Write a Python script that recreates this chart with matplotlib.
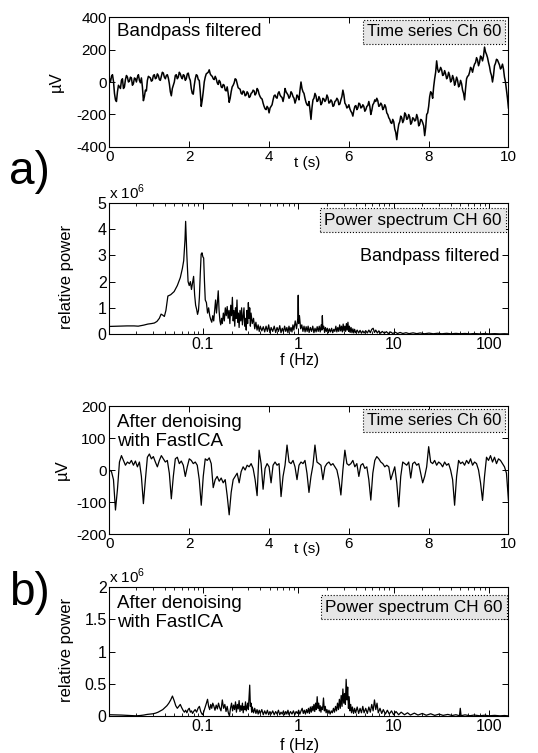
import numpy as np
import matplotlib
matplotlib.use("Agg")
import matplotlib.pyplot as plt
from matplotlib.ticker import FixedLocator, NullFormatter

plt.rcParams['font.family'] = ['Liberation Sans', 'DejaVu Sans']
plt.rcParams['mathtext.fontset'] = 'custom'
plt.rcParams['mathtext.rm'] = 'Liberation Sans'
plt.rcParams['axes.unicode_minus'] = False

# a) time series, bandpass filtered (uV, one value every 0.025 s, 0..10 s)
ts_band = [
    20, 0, 35, 45, 5, -70, -110, -120, -60, -20, -30, -40, 10, 20, -40, -30, 15, 40, 30, 0,
    5, 30, 25, -20, -10, 25, 20, 0, 30, 45, 10, -5, 25, -30, -115, -90, -50, -55, 10, 35,
    30, 25, 5, 10, 40, 45, 20, 25, 50, 40, 15, 10, 35, 60, 55, 30, 20, 40, 45, 25,
    -10, -60, -85, -40, -20, 0, 40, 45, 20, 30, 60, 50, 30, 20, 45, 40, 10, 20, 50, 55,
    25, 10, -40, -70, -75, -20, 20, 45, 40, 15, 10, -60, -150, -110, -60, 0, 30, 50, 55, 60,
    75, 50, 40, 35, 20, 15, 35, 20, -5, -15, 10, 0, -30, -35, -15, -20, -50, -55, -30, -70,
    -125, -100, -60, -30, -20, -5, 20, 15, -10, -35, -40, -45, -70, -75, -55, -60, -85, -80, -60, -70,
    -95, -90, -70, -65, -50, -55, -80, -70, -40, -50, -75, -90, -100, -105, -130, -150, -165, -170, -150, -160,
    -190, -160, -150, -140, -110, -85, -80, -95, -100, -70, -60, -80, -90, -95, -120, -90, -40, -60, -70, -80,
    -100, -90, -60, -70, -90, -100, -130, -110, -80, -90, -110, -50, 0, -40, -60, -70, -100, -125, -140, -145,
    -120, -170, -230, -160, -110, -100, -70, -85, -120, -115, -90, -105, -140, -130, -100, -105, -120, -110, -80, -95,
    -130, -125, -110, -120, -150, -145, -120, -115, -100, -110, -140, -135, -110, -90, -50, -80, -130, -140, -160, -155,
    -140, -165, -180, -190, -210, -175, -150, -145, -170, -160, -130, -135, -160, -155, -140, -150, -180, -170, -150, -145,
    -120, -150, -200, -175, -140, -130, -110, -120, -100, -115, -150, -145, -130, -140, -170, -160, -140, -155, -190, -200,
    -220, -230, -250, -255, -230, -245, -290, -310, -355, -300, -260, -245, -210, -220, -250, -235, -190, -200, -230, -225,
    -200, -215, -260, -250, -220, -225, -240, -235, -200, -220, -270, -260, -230, -235, -250, -270, -330, -280, -200, -190,
    -150, -90, -60, -70, -100, -30, 20, 60, 130, 80, 60, 70, 90, 75, 40, 45, 70, 50, 20, 30,
    60, 40, 0, 10, 40, 20, -20, 0, 30, 10, -30, -20, 10, -10, -50, -70, -110, -40, 20, 35,
    40, 60, 90, 80, 60, 90, 110, 120, 150, 135, 100, 120, 160, 150, 130, 160, 215, 185, 170, 150,
    120, 95, 60, 40, 0, 40, 100, 115, 140, 135, 120, 105, 80, 90, 110, 80, 30, 0, -50, -100,
    -160,
]

# b) time series after denoising with FastICA (uV, one value every 0.05 s, 0..10 s)
ts_ica = [
    0, -5, -30, -125, -60, 25, 45, 30, 15, 25, 20, 30, 15, 28, 10, 25, -20, -105, -30, 40,
    50, 35, 42, 25, 10, 30, 45, 35, 25, 30, -10, -90, -20, 35, 40, 20, 28, 15, -20, 10,
    35, 30, 20, 25, 15, -30, -110, -20, 35, 30, 38, 20, -55, -30, -20, -35, -25, -40, -30, -80,
    -140, -70, -30, -20, -10, -40, -5, 10, 0, 15, 10, 20, 5, -30, -80, 62, 20, -60, 5, 20,
    10, -40, 15, 25, 15, 20, -83, -20, 15, 78, 25, 20, 30, 10, -30, 15, 25, 20, 30, -10,
    -70, -20, 15, 78, 25, 20, 15, -30, 10, 20, 25, 15, 20, 10, 0, -30, -78, 0, 62, 20,
    15, 20, 30, 10, 20, -20, 15, 20, 5, 10, -30, -94, -10, 30, 42, 35, 25, 20, 10, 15,
    10, -30, -10, 10, -40, -115, -20, 25, 20, 15, 25, -25, 20, 25, 15, 20, -10, -40, -20, 10,
    73, 25, 20, 30, 15, 25, 20, 10, 25, 15, 20, 0, -30, -110, -20, 30, 20, 25, 15, 30,
    20, 35, 15, 25, 20, 0, -40, -95, -20, 40, 30, 45, 25, 40, 20, 35, 30, 20, 10, -10,
    -95,
]

# a) power spectrum, bandpass filtered: (f in Hz, power in 1e6)
spec_band = [
    (0.0105, 0.29), (0.013, 0.30), (0.016, 0.31), (0.019, 0.31), (0.021, 0.30), (0.024, 0.34),
    (0.0265, 0.38), (0.029, 0.40), (0.031, 0.42), (0.033, 0.48), (0.035, 0.60), (0.0365, 0.76),
    (0.038, 0.72), (0.0395, 0.67), (0.041, 0.9), (0.043, 1.45), (0.046, 1.5), (0.050, 1.62),
    (0.054, 1.85), (0.058, 2.15), (0.061, 2.5), (0.063, 2.8), (0.065, 3.6), (0.066, 4.3),
    (0.068, 3.0), (0.070, 2.0), (0.072, 1.85), (0.074, 2.0), (0.076, 1.7), (0.078, 1.95),
    (0.080, 2.2), (0.082, 1.5), (0.084, 1.1), (0.086, 0.95), (0.088, 0.75), (0.090, 0.9),
    (0.092, 1.4), (0.094, 2.3), (0.096, 3.05), (0.098, 3.1), (0.100, 2.95), (0.102, 2.9),
    (0.104, 2.0), (0.106, 1.3), (0.109, 1.2), (0.112, 0.8), (0.115, 1.0), (0.118, 0.7),
    (0.121, 0.55), (0.124, 0.45), (0.127, 0.7), (0.130, 0.5), (0.133, 0.9), (0.136, 1.3),
    (0.139, 0.8), (0.142, 1.2), (0.145, 1.65), (0.148, 0.9), (0.151, 0.5), (0.154, 0.35),
    (0.157, 0.6), (0.160, 0.4), (0.164, 0.8), (0.168, 0.5), (0.172, 1.0), (0.176, 0.7),
    (0.180, 1.05), (0.184, 0.6), (0.188, 0.9), (0.192, 0.4), (0.196, 1.1), (0.200, 0.7),
    (0.204, 1.4), (0.208, 0.5), (0.212, 0.9), (0.216, 0.3), (0.220, 1.0), (0.224, 0.6),
    (0.228, 1.3), (0.232, 0.45), (0.236, 0.8), (0.240, 0.25), (0.245, 0.9), (0.250, 0.5),
    (0.255, 1.0), (0.260, 0.35), (0.265, 0.7), (0.270, 1.0), (0.275, 0.3), (0.280, 0.6),
    (0.285, 0.15), (0.290, 0.9), (0.295, 0.4), (0.300, 1.2), (0.305, 0.6), (0.310, 1.0),
    (0.315, 0.3), (0.320, 0.8), (0.330, 0.4), (0.340, 0.6), (0.350, 0.2), (0.360, 0.45),
    (0.370, 0.15), (0.380, 0.35), (0.390, 0.1), (0.400, 0.3), (0.415, 0.12), (0.430, 0.28),
    (0.445, 0.08), (0.460, 0.3), (0.475, 0.1), (0.490, 0.35), (0.505, 0.05), (0.520, 0.25),
    (0.540, 0.1), (0.560, 0.3), (0.580, 0.06), (0.600, 0.25), (0.620, 0.1), (0.640, 0.32),
    (0.660, 0.05), (0.680, 0.22), (0.700, 0.08), (0.720, 0.3), (0.740, 0.1), (0.760, 0.25),
    (0.780, 0.05), (0.800, 0.3), (0.820, 0.1), (0.840, 0.25), (0.860, 0.08), (0.880, 0.35),
    (0.900, 0.15), (0.930, 0.5), (0.960, 0.2), (0.990, 0.6), (1.00, 1.48), (1.01, 0.4),
    (1.03, 0.7), (1.06, 0.2), (1.09, 0.35), (1.12, 0.1), (1.15, 0.3), (1.18, 0.08),
    (1.21, 0.28), (1.24, 0.1), (1.27, 0.3), (1.30, 0.06), (1.34, 0.25), (1.38, 0.1),
    (1.42, 0.3), (1.46, 0.05), (1.50, 0.22), (1.54, 0.08), (1.58, 0.28), (1.62, 0.1),
    (1.66, 0.3), (1.70, 0.08), (1.74, 0.35), (1.77, 0.15), (1.79, 0.7), (1.81, 0.2),
    (1.85, 0.3), (1.89, 0.06), (1.93, 0.25), (1.97, 0.1), (2.02, 0.22), (2.07, 0.05),
    (2.12, 0.2), (2.18, 0.08), (2.24, 0.22), (2.30, 0.05), (2.36, 0.18), (2.42, 0.1),
    (2.48, 0.3), (2.54, 0.08), (2.60, 0.25), (2.66, 0.1), (2.72, 0.35), (2.78, 0.12),
    (2.84, 0.3), (2.90, 0.08), (2.96, 0.38), (3.02, 0.12), (3.08, 0.3), (3.14, 0.1),
    (3.20, 0.4), (3.26, 0.15), (3.32, 0.45), (3.38, 0.1), (3.44, 0.3), (3.50, 0.06),
    (3.58, 0.25), (3.66, 0.05), (3.74, 0.2), (3.82, 0.04), (3.90, 0.18), (4.00, 0.05),
    (4.15, 0.15), (4.30, 0.04), (4.45, 0.14), (4.60, 0.03), (4.75, 0.12), (4.90, 0.04),
    (5.10, 0.13), (5.30, 0.04), (5.50, 0.15), (5.70, 0.05), (5.90, 0.18), (6.10, 0.22),
    (6.30, 0.06), (6.50, 0.15), (6.75, 0.04), (7.00, 0.12), (7.30, 0.03), (7.60, 0.1),
    (8.00, 0.03), (8.40, 0.09), (8.80, 0.02), (9.30, 0.08), (9.80, 0.02), (10.4, 0.07),
    (11.0, 0.02), (11.7, 0.06), (12.5, 0.02), (13.5, 0.05), (14.5, 0.015), (16.0, 0.045),
    (17.5, 0.015), (19.0, 0.04), (21.0, 0.01), (23.5, 0.035), (26.0, 0.01), (29.0, 0.03),
    (32.0, 0.01), (36.0, 0.028), (40.0, 0.008), (45.0, 0.025), (50.0, 0.01), (56.0, 0.022),
    (63.0, 0.006), (70.0, 0.02), (80.0, 0.006), (90.0, 0.018), (100.0, 0.005), (115.0, 0.015),
    (130.0, 0.005), (145.0, 0.012), (158.0, 0.005),
]

# b) power spectrum after FastICA: (f in Hz, power in 1e6)
spec_ica = [
    (0.0105, 0.02), (0.012, 0.018), (0.014, 0.015), (0.016, 0.01), (0.018, 0.005), (0.020, 0.003),
    (0.022, 0.008), (0.024, 0.015), (0.026, 0.025), (0.028, 0.03), (0.030, 0.035), (0.032, 0.045),
    (0.034, 0.06), (0.036, 0.08), (0.038, 0.1), (0.040, 0.13), (0.042, 0.16), (0.044, 0.2),
    (0.046, 0.25), (0.048, 0.31), (0.050, 0.24), (0.052, 0.16), (0.054, 0.12), (0.056, 0.15),
    (0.058, 0.18), (0.060, 0.13), (0.062, 0.09), (0.064, 0.06), (0.066, 0.09), (0.068, 0.05),
    (0.070, 0.1), (0.072, 0.12), (0.074, 0.06), (0.076, 0.08), (0.078, 0.04), (0.080, 0.07),
    (0.083, 0.1), (0.086, 0.06), (0.089, 0.12), (0.092, 0.15), (0.095, 0.07), (0.098, 0.03),
    (0.100, 0.02), (0.103, 0.08), (0.106, 0.14), (0.109, 0.2), (0.112, 0.26), (0.115, 0.15),
    (0.118, 0.1), (0.121, 0.18), (0.124, 0.12), (0.127, 0.2), (0.130, 0.16), (0.134, 0.09),
    (0.138, 0.17), (0.142, 0.11), (0.146, 0.2), (0.150, 0.13), (0.155, 0.08), (0.160, 0.25),
    (0.165, 0.12), (0.170, 0.18), (0.175, 0.07), (0.180, 0.15), (0.185, 0.05), (0.190, 0.0),
    (0.195, 0.12), (0.200, 0.2), (0.205, 0.08), (0.210, 0.17), (0.215, 0.1), (0.220, 0.22),
    (0.225, 0.06), (0.230, 0.18), (0.235, 0.11), (0.240, 0.24), (0.245, 0.07), (0.250, 0.16),
    (0.255, 0.09), (0.260, 0.2), (0.265, 0.05), (0.270, 0.15), (0.275, 0.1), (0.280, 0.22),
    (0.285, 0.08), (0.290, 0.14), (0.295, 0.2), (0.300, 0.1), (0.305, 0.3), (0.310, 0.48),
    (0.315, 0.15), (0.320, 0.2), (0.325, 0.06), (0.330, 0.14), (0.340, 0.05), (0.350, 0.12),
    (0.360, 0.04), (0.370, 0.1), (0.380, 0.03), (0.390, 0.09), (0.400, 0.04), (0.415, 0.1),
    (0.430, 0.02), (0.445, 0.08), (0.460, 0.03), (0.475, 0.09), (0.490, 0.02), (0.505, 0.07),
    (0.520, 0.03), (0.540, 0.08), (0.560, 0.02), (0.580, 0.07), (0.600, 0.03), (0.620, 0.09),
    (0.640, 0.02), (0.660, 0.06), (0.680, 0.03), (0.700, 0.08), (0.720, 0.02), (0.740, 0.07),
    (0.760, 0.03), (0.780, 0.09), (0.800, 0.02), (0.830, 0.07), (0.860, 0.03), (0.890, 0.08),
    (0.920, 0.02), (0.950, 0.07), (0.980, 0.04), (1.01, 0.09), (1.04, 0.03), (1.07, 0.08),
    (1.10, 0.12), (1.13, 0.04), (1.16, 0.09), (1.19, 0.03), (1.22, 0.1), (1.25, 0.05),
    (1.28, 0.12), (1.31, 0.04), (1.34, 0.14), (1.37, 0.06), (1.40, 0.15), (1.43, 0.08),
    (1.46, 0.18), (1.49, 0.07), (1.52, 0.2), (1.55, 0.1), (1.58, 0.3), (1.61, 0.12),
    (1.64, 0.2), (1.67, 0.08), (1.70, 0.16), (1.73, 0.06), (1.76, 0.14), (1.80, 0.1),
    (1.84, 0.28), (1.88, 0.08), (1.92, 0.15), (1.96, 0.05), (2.00, 0.1), (2.05, 0.04),
    (2.10, 0.09), (2.16, 0.03), (2.22, 0.08), (2.28, 0.05), (2.34, 0.12), (2.40, 0.06),
    (2.46, 0.15), (2.52, 0.08), (2.58, 0.2), (2.64, 0.1), (2.70, 0.26), (2.76, 0.12),
    (2.82, 0.32), (2.88, 0.15), (2.94, 0.42), (3.00, 0.2), (3.06, 0.35), (3.12, 0.18),
    (3.18, 0.57), (3.24, 0.25), (3.30, 0.45), (3.36, 0.12), (3.42, 0.3), (3.48, 0.08),
    (3.55, 0.18), (3.62, 0.05), (3.70, 0.14), (3.80, 0.04), (3.90, 0.12), (4.00, 0.05),
    (4.15, 0.14), (4.30, 0.04), (4.45, 0.12), (4.60, 0.05), (4.75, 0.15), (4.90, 0.05),
    (5.10, 0.12), (5.30, 0.04), (5.50, 0.14), (5.70, 0.06), (5.90, 0.18), (6.10, 0.08),
    (6.30, 0.25), (6.50, 0.1), (6.70, 0.2), (6.90, 0.05), (7.20, 0.12), (7.50, 0.04),
    (7.80, 0.1), (8.20, 0.03), (8.60, 0.09), (9.00, 0.03), (9.50, 0.08), (10.0, 0.02),
    (10.6, 0.07), (11.3, 0.02), (12.0, 0.06), (13.0, 0.02), (14.0, 0.05), (15.0, 0.015),
    (16.5, 0.045), (18.0, 0.015), (20.0, 0.04), (22.0, 0.012), (24.5, 0.035), (27.0, 0.01),
    (30.0, 0.03), (33.0, 0.01), (37.0, 0.025), (41.0, 0.008), (45.0, 0.02), (49.0, 0.005),
    (50.0, 0.12), (51.0, 0.005), (56.0, 0.018), (63.0, 0.005), (70.0, 0.015), (80.0, 0.004),
    (90.0, 0.012), (100.0, 0.004), (115.0, 0.01), (130.0, 0.003), (145.0, 0.008), (158.0, 0.003),
]

t_ticks = [0, 2, 4, 6, 8, 10]
f_ticks = [0.1, 1, 10, 100]
f_labels = ['0.1', '1', '10', '100']
f_minor = [m * 10.0 ** e for e in range(-2, 3) for m in range(2, 10)]

box = dict(boxstyle='square,pad=0.25', facecolor='#e6e6e6', edgecolor='black',
           linestyle=':', linewidth=0.8)

fig = plt.figure(figsize=(5.38, 7.53), dpi=100)
ax1 = fig.add_axes([0.2035, 0.8048, 0.7416, 0.1726])
ax2 = fig.add_axes([0.2035, 0.5564, 0.7416, 0.1740])
ax3 = fig.add_axes([0.2035, 0.2908, 0.7416, 0.1700])
ax4 = fig.add_axes([0.2035, 0.0491, 0.7416, 0.1710])


def style(ax, size):
    ax.tick_params(which='both', direction='in', top=True, right=True, labelsize=size, pad=2)
    ax.tick_params(which='major', length=4, width=0.7)
    ax.tick_params(which='minor', length=2.5, width=0.6)
    for s in ax.spines.values():
        s.set_linewidth(0.8)


# time series panels
for ax, data, ylim, yt, lab, ly, lw in [
    (ax1, ts_band, (-400, 400), [-400, -200, 0, 200, 400], 'Bandpass filtered', 0.885, 1.1),
    (ax3, ts_ica, (-200, 200), [-200, -100, 0, 100, 200], 'After denoising\nwith FastICA', 0.8, 0.9),
]:
    t = np.linspace(0, 10, len(data))
    ax.plot(t, data, color='black', lw=lw)
    ax.set_xlim(0, 10)
    ax.set_ylim(*ylim)
    ax.set_xticks(t_ticks)
    ax.set_yticks(yt)
    style(ax, 11)
    ax.set_xlabel('t (s)', fontsize=11)
    ax.xaxis.label.set_va('center')
    ax.set_ylabel('µV', fontsize=12)
    ax.text(0.02, ly, lab, transform=ax.transAxes,
            fontsize=13.5, ha='left', va='center', linespacing=1.15)
    ax.text(0.982, 0.885, 'Time series Ch 60', transform=ax.transAxes, fontsize=12,
            ha='right', va='center', bbox=box)

ax1.xaxis.set_label_coords(0.495, -0.12)
ax3.xaxis.set_label_coords(0.495, -0.115)
ax1.yaxis.set_label_coords(-0.115, 0.5)
ax3.yaxis.set_label_coords(-0.10, 0.5)

# spectrum panels
for ax, spec, ylim, yt, ytl in [
    (ax2, spec_band, (0, 5), [0, 1, 2, 3, 4, 5], ['0', '1', '2', '3', '4', '5']),
    (ax4, spec_ica, (0, 2), [0, 0.5, 1, 1.5, 2], ['0', '0.5', '1', '1.5', '2']),
]:
    f, p = zip(*spec)
    ax.plot(f, p, color='black', lw=0.9)
    ax.set_xscale('log')
    ax.set_xlim(0.0105, 160)
    ax.set_ylim(*ylim)
    ax.xaxis.set_major_locator(FixedLocator(f_ticks))
    ax.set_xticklabels(f_labels)
    ax.xaxis.set_minor_locator(FixedLocator(f_minor))
    ax.xaxis.set_minor_formatter(NullFormatter())
    ax.set_yticks(yt)
    ax.set_yticklabels(ytl)
    style(ax, 11.5)
    ax.set_xlabel('f (Hz)', fontsize=11.5)
    ax.xaxis.label.set_va('center')
    ax.set_ylabel('relative power', fontsize=12)
    ax.text(0.0, 1.01, r'x 10$^{6}$', transform=ax.transAxes, fontsize=11,
            ha='left', va='bottom')

ax2.xaxis.set_label_coords(0.477, -0.205)
ax4.xaxis.set_label_coords(0.477, -0.228)
ax2.yaxis.set_label_coords(-0.09, 0.435)
ax4.yaxis.set_label_coords(-0.09, 0.51)

ax2.text(0.983, 0.87, 'Power spectrum CH 60', transform=ax2.transAxes, fontsize=12.3,
         ha='right', va='center', bbox=box)
ax2.text(0.978, 0.595, 'Bandpass filtered', transform=ax2.transAxes, fontsize=13,
         ha='right', va='center')
ax4.text(0.02, 0.8, 'After denoising\nwith FastICA', transform=ax4.transAxes,
         fontsize=13.5, ha='left', va='center', linespacing=1.15)
ax4.text(0.985, 0.845, 'Power spectrum CH 60', transform=ax4.transAxes, fontsize=12.3,
         ha='right', va='center', bbox=box)

fig.text(0.016, 0.771, 'a)', fontsize=33, ha='left', va='center')
fig.text(0.016, 0.212, 'b)', fontsize=33, ha='left', va='center')

fig.savefig('out.png', dpi=100)
